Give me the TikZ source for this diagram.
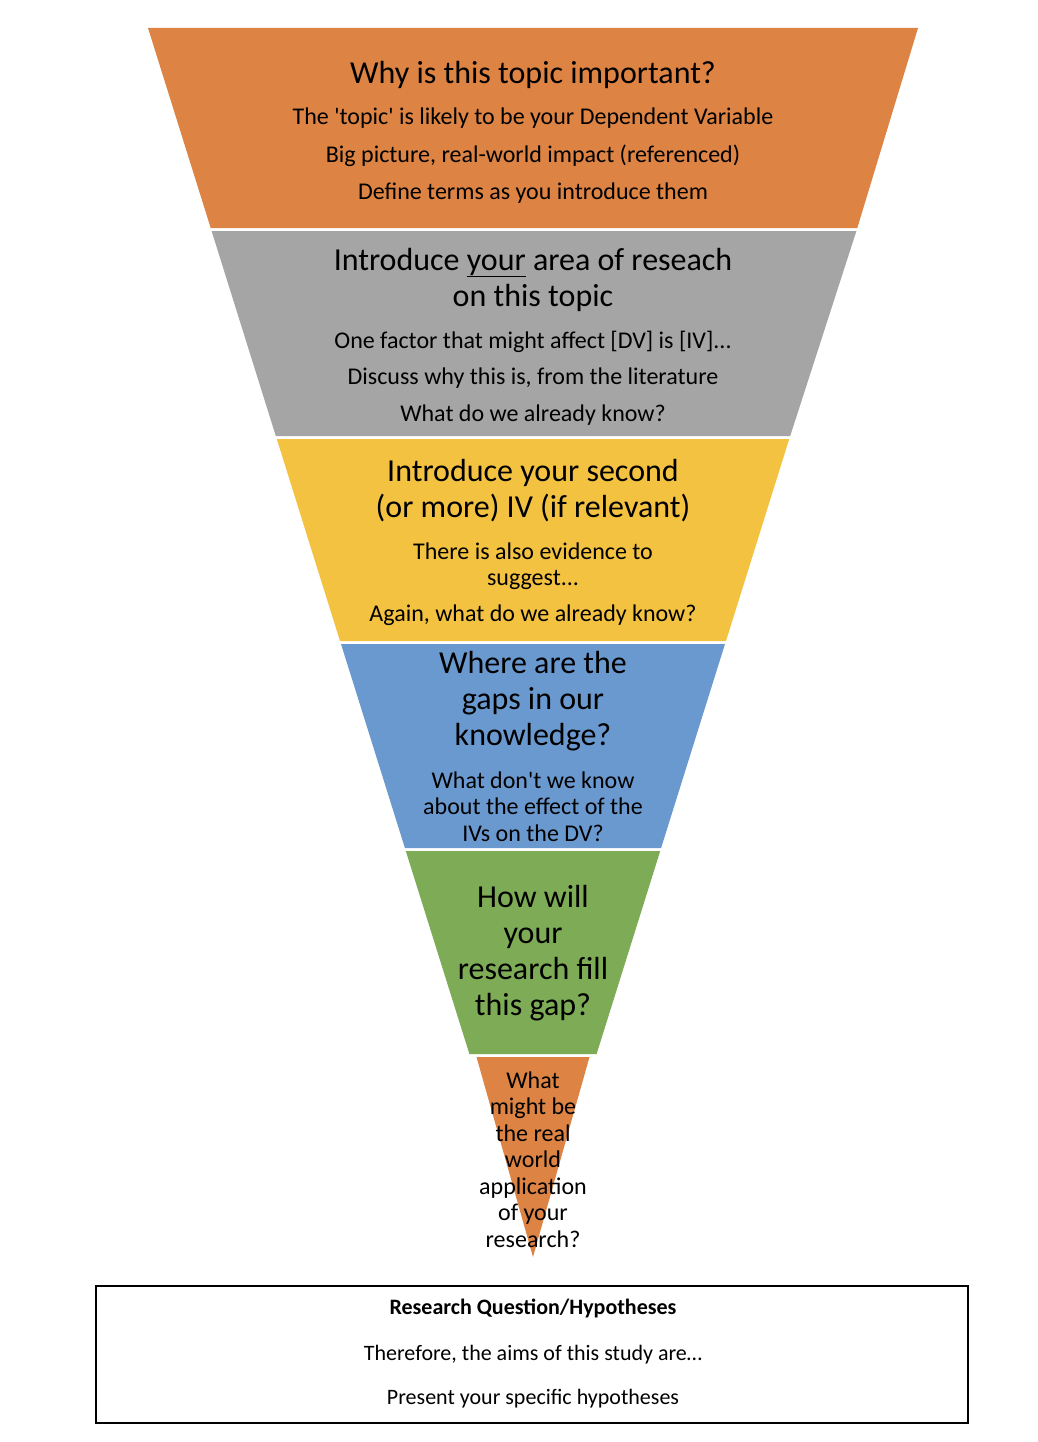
\documentclass[tikz,border=0pt]{standalone}
\usepackage{fontspec}
\setmainfont{Carlito}[Ligatures=TeXOff]
\definecolor{segorange}{RGB}{221,131,67}
\definecolor{seggray}{RGB}{165,165,165}
\definecolor{segyellow}{RGB}{243,194,65}
\definecolor{segblue}{RGB}{106,153,208}
\definecolor{seggreen}{RGB}{126,171,85}

\begin{document}
\begin{tikzpicture}[x=1pt,y=-1pt,
	segtitle/.style={anchor=base,align=center,inner sep=0pt,font=\fontsize{32}{36}\selectfont},
	segbody/.style={anchor=base,align=center,inner sep=0pt,font=\fontsize{24}{26.5}\selectfont},
	boxtext/.style={anchor=base,align=center,inner sep=0pt,font=\fontsize{22}{26}\selectfont}]
	\useasboundingbox (0,0) rectangle (1038,1442);
	% funnel segments
	\fill[segorange] (148,28) -- (918,28) -- (857.3,228) -- (210.7,228) -- cycle;
	\fill[seggray] (211.6,231) -- (856.4,231) -- (790.2,436) -- (275.8,436) -- cycle;
	\fill[segyellow] (276.8,439) -- (789.2,439) -- (726,641) -- (340,641) -- cycle;
	\fill[segblue] (341,644) -- (725,644) -- (661.1,848) -- (404.9,848) -- cycle;
	\fill[seggreen] (405.8,851) -- (660.2,851) -- (596.6,1054) -- (469.4,1054) -- cycle;
	\fill[segorange] (476.5,1057) -- (589.5,1057) -- (533,1257) -- cycle;
	% texts (base = last line)
	\node[segtitle] (t1) at (533,84) {Why is this topic important?};
	\node[segbody] (b1) at (533,200) {The 'topic' is likely to be your Dependent Variable\\[11pt]
		Big picture, real-world impact (referenced)\\[11pt]
		Define terms as you introduce them};
	\node[segtitle] (t2) at (533,306) {Introduce \underline{your} area of reseach\\on this topic};
	\node[segbody] (b2) at (533,421) {One factor that might affect [DV] is [IV]...\\[10pt]
		Discuss why this is, from the literature\\[10pt]
		What do we already know?};
	\node[segtitle] (t3) at (533,517) {Introduce your second\\(or more) IV (if relevant)};
	\node[segbody] (b3) at (533,621) {There is also evidence to\\suggest...\\[9pt]
		Again, what do we already know?};
	\node[segtitle] (t4) at (533,745) {Where are the\\gaps in our\\knowledge?};
	\node[segbody] (b4) at (533,841) {What don't we know\\about the effect of the\\IVs on the DV?};
	\node[segtitle] (t5) at (533,1015) {How will\\your\\research fill\\this gap?};
	\node[segbody] (b6) at (533,1247) {What\\might be\\the real\\world\\application\\of your\\research?};
	% research question box
	\draw[line width=1.5pt] (96,1286) rectangle (968,1423);
	\node[boxtext,font=\bfseries\fontsize{22}{26}\selectfont] (q1) at (533,1314) {Research Question/Hypotheses};
	\node[boxtext] (q2) at (533,1404) {Therefore, the aims of this study are…\\[18pt]
		Present your specific hypotheses};
\end{tikzpicture}
\end{document}
